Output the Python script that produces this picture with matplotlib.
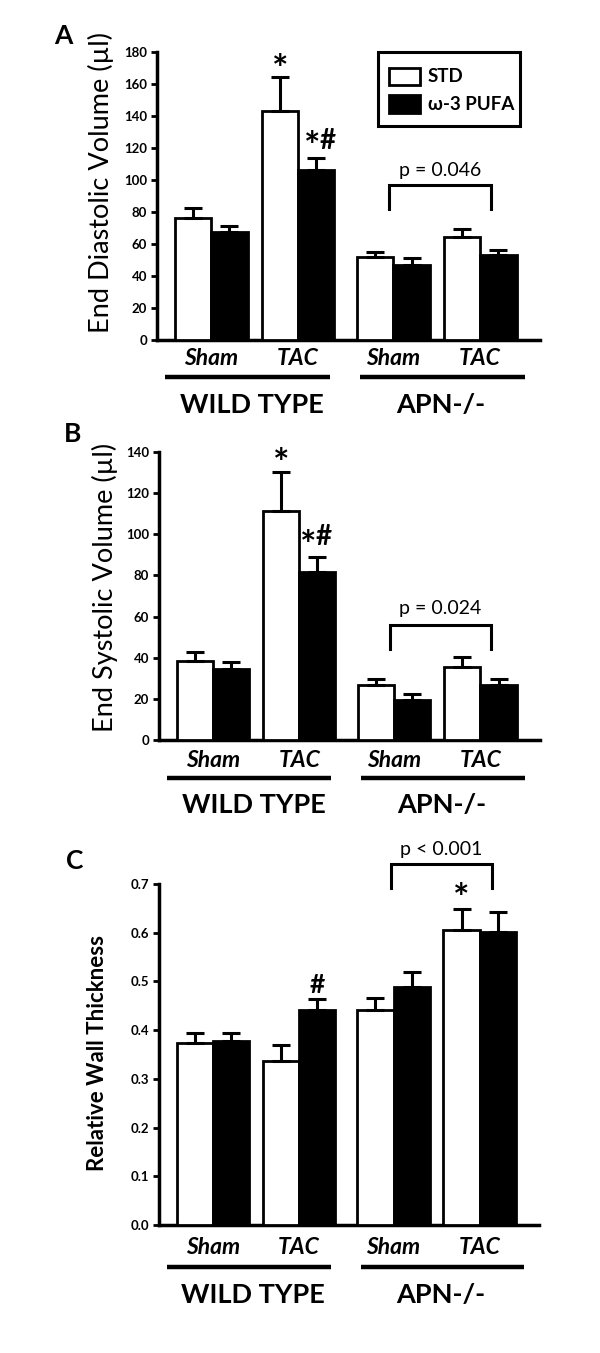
import matplotlib
matplotlib.use("Agg")
import matplotlib.pyplot as plt
import matplotlib.transforms as mtransforms
from matplotlib.patches import Rectangle
import numpy as np

plt.rcParams['font.family'] = ['Lato', 'DejaVu Sans']

# ---------------- data ----------------
conditions = ["Sham", "TAC", "Sham", "TAC"]
genotypes = ["WILD TYPE", "APN-/-"]
series_names = ["STD", "ω-3 PUFA"]

edv_std = [76, 143, 52, 64]
edv_std_err = [6.3, 21, 3.0, 5.2]
edv_pufa = [67.5, 106, 47, 53]
edv_pufa_err = [3.4, 7.9, 3.9, 3.3]

esv_std = [38.5, 111.5, 26.5, 35.5]
esv_std_err = [4.4, 18.6, 3.1, 4.7]
esv_pufa = [34.5, 81.5, 19.5, 26.5]
esv_pufa_err = [3.2, 7.7, 2.7, 3.3]

rwt_std = [0.374, 0.337, 0.441, 0.605]
rwt_std_err = [0.021, 0.033, 0.024, 0.043]
rwt_pufa = [0.378, 0.442, 0.488, 0.601]
rwt_pufa_err = [0.017, 0.022, 0.031, 0.042]

# ---------------- layout ----------------
W, H = 600, 1353
fig = plt.figure(figsize=(W / 100, H / 100), dpi=100)

def rect(l, r, t, b):
    return [l / W, 1 - b / H, (r - l) / W, (b - t) / H]

pos = np.array([0.0, 1.0, 2.1, 3.1])
bw = 0.42
xlim = (-0.625, 3.79)
LW = 2.2

def panel(axr, std, std_err, pufa, pufa_err, ylim, yticks, fmt, ylabel,
          ylab_xy, ylab_fs, ylab_w, letter, letter_xy, tick_pad, line_y, grp_y):
    ax = fig.add_axes(rect(*axr))
    ax.bar(pos - bw / 2, std, bw, color='white', edgecolor='black', linewidth=2.0,
           yerr=[np.zeros(4), std_err], error_kw=dict(ecolor='black', elinewidth=LW,
           capsize=6.5, capthick=LW), zorder=3)
    ax.bar(pos + bw / 2, pufa, bw, color='black', edgecolor='black', linewidth=2.0,
           yerr=[np.zeros(4), pufa_err], error_kw=dict(ecolor='black', elinewidth=LW,
           capsize=6.5, capthick=LW), zorder=3)
    ax.set_xlim(*xlim)
    ax.set_ylim(*ylim)
    for s in ['top', 'right']:
        ax.spines[s].set_visible(False)
    for s in ['left', 'bottom']:
        ax.spines[s].set_linewidth(2.5)
    ax.set_yticks(yticks)
    ax.set_yticklabels([fmt.format(v) for v in yticks], fontsize=9.5, fontweight='bold')
    ax.tick_params(axis='y', length=4, width=2, pad=3)
    ax.set_xticks(pos)
    ax.set_xticklabels(conditions, fontsize=16.5, fontweight='bold', fontstyle='italic')
    ax.tick_params(axis='x', length=0, pad=tick_pad)
    ax.set_ylabel(ylabel, fontsize=ylab_fs, fontweight=ylab_w)
    ax.yaxis.set_label_coords(*ylab_xy)
    trans = mtransforms.blended_transform_factory(ax.transData, ax.transAxes)
    for (x0, x1), g, gx in zip([(-0.53, 1.37), (1.72, 3.62)], genotypes, [0.47, 2.65]):
        ax.plot([x0, x1], [line_y, line_y], color='black', lw=3.2, transform=trans,
                clip_on=False, solid_capstyle='butt')
        ax.text(gx, grp_y, g, transform=trans, ha='center', va='center',
                fontsize=19.5, fontweight='bold')
    fig.text(letter_xy[0] / W, 1 - letter_xy[1] / H, letter, fontsize=19,
             fontweight='bold', ha='center', va='center')
    return ax

def bracket(ax, x0, x1, ytop, yleg, text, ytext):
    ax.plot([x0, x0, x1, x1], [yleg, ytop, ytop, yleg], color='black', lw=LW,
            clip_on=False, solid_joinstyle='miter')
    ax.text((x0 + x1) / 2, ytext, text, ha='center', va='center', fontsize=14,
            clip_on=False)

def mark(ax, x, y, s, fs=28):
    ax.text(x, y, s, ha='center', va='center', fontsize=fs, fontweight='bold',
            clip_on=False)

# Panel A
axA = panel((157, 540, 51.7, 340), edv_std, edv_std_err, edv_pufa, edv_pufa_err,
            (0, 180), list(range(0, 181, 20)), "{:d}", "End Diastolic Volume (µl)",
            (-0.113, 0.545), 19.5, 'normal', "A", (63, 36), 6, -0.128, -0.225)
bracket(axA, 2.05, 3.22, 96.5, 81.5, "p = 0.046", 106)
mark(axA, pos[1] - bw / 2, 168, "*")
mark(axA, pos[1] + bw / 2 - 0.04, 120, "*")
mark(axA, pos[1] + bw / 2 + 0.13, 124.5, "#", fs=20)

# legend (drawn manually)
fig.patches.append(Rectangle((378 / W, 1 - 126 / H), (520 - 378) / W, (126 - 52) / H,
                             transform=fig.transFigure, fill=False, lw=2.2,
                             edgecolor='black'))
for (yc, fc), name in zip([(76.5, 'white'), (104, 'black')], series_names):
    fig.patches.append(Rectangle((389 / W, 1 - (yc + 8.5) / H), 31 / W, 17 / H,
                                 transform=fig.transFigure, facecolor=fc,
                                 edgecolor='black', lw=2.0))
    fig.text(428 / W, 1 - yc / H, name, fontsize=13.5, fontweight='bold',
             ha='left', va='center')

# Panel B
axB = panel((159, 540, 452, 740), esv_std, esv_std_err, esv_pufa, esv_pufa_err,
            (0, 140), list(range(0, 141, 20)), "{:d}", "End Systolic Volume (µl)",
            (-0.108, 0.53), 19.5, 'normal', "B", (73, 434), 7, -0.132, -0.226)
bracket(axB, 2.05, 3.22, 55.8, 44, "p = 0.024", 64)
mark(axB, pos[1] - bw / 2, 134, "*")
mark(axB, pos[1] + bw / 2 - 0.1, 94, "*")
mark(axB, pos[1] + bw / 2 + 0.07, 98.5, "#", fs=20)

# Panel C
axC = panel((159, 539, 884, 1225), rwt_std, rwt_std_err, rwt_pufa, rwt_pufa_err,
            (0, 0.7), [round(0.1 * i, 1) for i in range(8)], "{:.1f}",
            "Relative Wall Thickness", (-0.135, 0.504), 16, 'bold', "C", (75, 861), 9,
            -0.123, -0.205)
bracket(axC, 2.07, 3.24, 0.741, 0.692, "p < 0.001", 0.770)
mark(axC, pos[3] - bw / 2, 0.668, "*")
mark(axC, pos[1] + bw / 2, 0.492, "#", fs=19)

fig.savefig("out.png", dpi=100)
